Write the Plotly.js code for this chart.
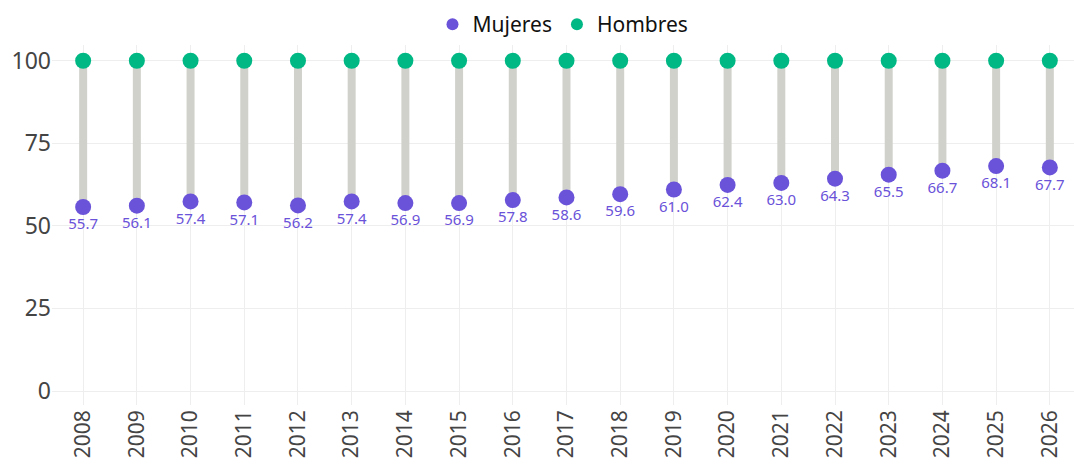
<!DOCTYPE html>
<html><head><meta charset="utf-8">
<script src="https://cdn.plot.ly/plotly-3.0.1.min.js"></script>
<style>html,body{margin:0;padding:0;background:#fff}#chart{width:1074px;height:468px}</style>
</head><body><div id="chart"></div>
<script>
const years = ['2008','2009','2010','2011','2012','2013','2014','2015','2016','2017','2018','2019','2020','2021','2022','2023','2024','2025','2026'];
const mujeres = [55.7,56.1,57.4,57.1,56.2,57.4,56.9,56.9,57.8,58.6,59.6,61.0,62.4,63.0,64.3,65.5,66.7,68.1,67.7];
const hombres = [100,100,100,100,100,100,100,100,100,100,100,100,100,100,100,100,100,100,100];

const FONT = 'Noto Sans, Open Sans, sans-serif';
const segX = [], segY = [];
years.forEach((y,i)=>{ segX.push(y,y,null); segY.push(mujeres[i],hombres[i],null); });

const data = [
  {x: segX, y: segY, mode:'lines', line:{color:'#d1d1cc', width:8}, showlegend:false, hoverinfo:'skip', connectgaps:false},
  {x: years, y: mujeres, name:'Mujeres', mode:'markers+text', marker:{color:'#6a52d9', size:16},
   text: mujeres.map(v=>v.toFixed(1)), textposition:'bottom center', textfont:{color:'#6a52d9', size:15, family:FONT}},
  {x: years, y: hombres, name:'Hombres', mode:'markers', marker:{color:'#00b884', size:16}}
];
const layout = {
  width:1074, height:468,
  margin:{l:52, r:0, t:45, b:63},
  paper_bgcolor:'#fff', plot_bgcolor:'#fff',
  font:{family:FONT, color:'#444'},
  showlegend:true,
  legend:{orientation:'h', x:0.5, xanchor:'center', y:1.0, yanchor:'bottom', font:{size:21, color:'#111', family:FONT}, itemwidth:20, itemsizing:'constant', tracegroupgap:0},
  xaxis:{type:'category', automargin:false, range:[-0.58,18.45], tickangle:-90, tickfont:{size:21, color:'#444'}, showgrid:true, gridcolor:'#eeeeee', zeroline:false, showline:false, ticks:''},
  yaxis:{automargin:false, range:[-4.24,104.76], tickvals:[0,25,50,75,100], tickfont:{size:23, color:'#444'}, showgrid:true, gridcolor:'#eeeeee', zeroline:false, showline:false, ticks:'', ticklen:0}
};
Plotly.newPlot('chart', data, layout, {displayModeBar:false});
</script></body></html>
